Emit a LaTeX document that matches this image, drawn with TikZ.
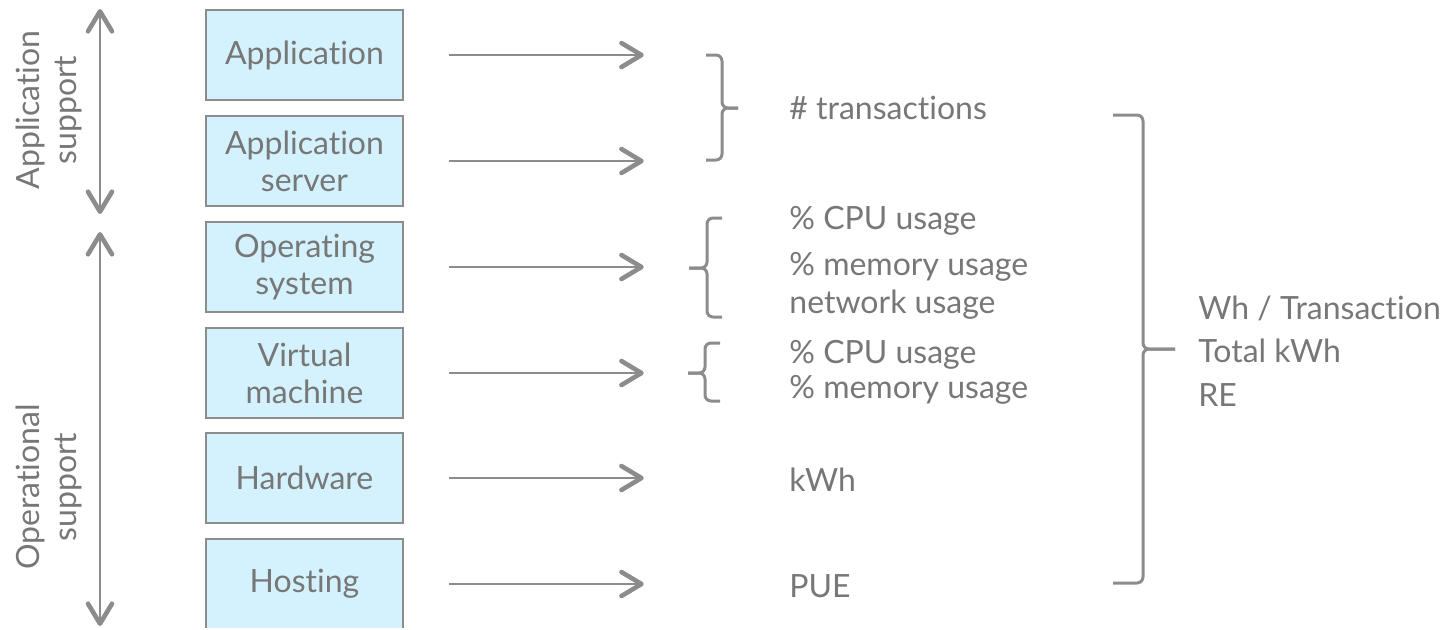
\documentclass[tikz,border=0pt]{standalone}
\usepackage{fontspec}
\setmainfont{Lato}[Ligatures=NoCommon]
\usetikzlibrary{arrows.meta}
\definecolor{linegray}{HTML}{8C8C8C}
\definecolor{textgray}{HTML}{777777}
\definecolor{layerfill}{HTML}{D3F2FD}
\begin{document}
\begin{tikzpicture}[x=0.5pt,y=-0.5pt,
    font=\fontsize{16}{18.5}\selectfont, text=textgray,
    layerbox/.style={draw=linegray, line width=0.75pt, fill=layerfill,
        minimum width=98.5pt, minimum height=45pt, inner sep=0pt, align=center},
    metric/.style={anchor=base west, inner sep=0pt},
    barb/.tip={Straight Barb[length=10pt,width=12pt,line width=2.3pt,round]},
    flowarrow/.style={draw=linegray, line width=1pt, -barb},
    sidearrow/.style={draw=linegray, line width=1pt, barb-barb},
    metricbrace/.style={draw=linegray, line width=1.5pt, rounded corners=3pt}]
    \useasboundingbox (0,0) rectangle (1447,629);
    \clip (-5,-5) rectangle (1452,627);
    % layers
    \node[layerbox] (app)  at (304.5,55)  {Application};
    \node[layerbox] (srv)  at (304.5,161) {Application\\server};
    \node[layerbox] (os)   at (304.5,267) {Operating\\system};
    \node[layerbox] (vm)   at (304.5,373) {Virtual\\machine};
    \node[layerbox] (hw)   at (304.5,478) {Hardware};
    \node[layerbox] (host) at (304.5,584) {Hosting};
    \foreach \b in {app,srv,os,vm,hw,host}
        \draw[flowarrow] ([xshift=22.5pt]\b.east) -- ([xshift=120pt]\b.east);
    % support sides
    \coordinate (apptop) at (100,9);
    \coordinate (appbot) at (100,214);
    \coordinate (optop)  at (100,232);
    \coordinate (opbot)  at (100,626);
    \draw[sidearrow] (apptop) -- (appbot);
    \draw[sidearrow] (optop) -- (opbot);
    \node[rotate=90, align=center] (appsup) at (49,110) {Application\\support};
    \node[rotate=90, align=center] (opsup)  at (49,487) {Operational\\support};
    % braces
    \draw[metricbrace] (706,55) -- (722,55) -- (722,108) -- (738,108);
    \draw[metricbrace] (706,160) -- (722,160) -- (722,108) -- (738,108);
    \draw[metricbrace] (722,218) -- (707,218) -- (707,268) -- (689,268);
    \draw[metricbrace] (722,317) -- (707,317) -- (707,268) -- (689,268);
    \draw[metricbrace] (720,343) -- (705,343) -- (705,373) -- (688,373);
    \draw[metricbrace] (720,401) -- (705,401) -- (705,373) -- (688,373);
    \draw[metricbrace] (1113,115) -- (1143,115) -- (1143,349) -- (1175,349);
    \draw[metricbrace] (1113,583) -- (1143,583) -- (1143,349) -- (1175,349);
    % metrics
    \node[metric] (trans)  at (789,119) {\# transactions};
    \node[metric] (oscpu)  at (789,229) {\% CPU usage};
    \node[metric] (osmem)  at (789,275) {\% memory usage};
    \node[metric] (osnet)  at (789,313) {network usage};
    \node[metric] (vmcpu)  at (789,363) {\% CPU usage};
    \node[metric] (vmmem)  at (789,398) {\% memory usage};
    \node[metric] (kwh)    at (789,491) {kWh};
    \node[metric] (pue)    at (789,597) {PUE};
    \node[metric] (whtr)   at (1198,319) {Wh / Transaction};
    \node[metric] (totkwh) at (1198,362) {Total kWh};
    \node[metric] (re)     at (1198,406) {RE};
\end{tikzpicture}
\end{document}
